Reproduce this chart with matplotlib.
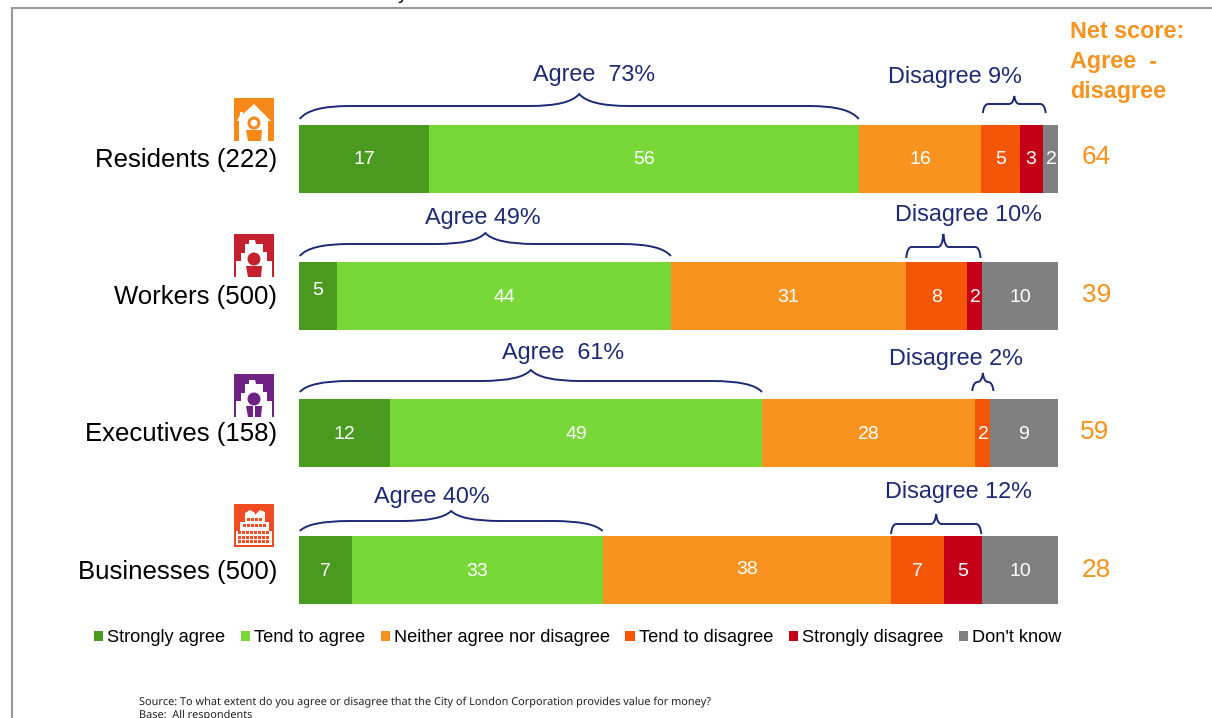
import numpy as np
import matplotlib
matplotlib.use('Agg')
import matplotlib.pyplot as plt
from matplotlib.patches import Rectangle, Polygon, Circle, PathPatch
from matplotlib.path import Path
from matplotlib.transforms import blended_transform_factory

plt.rcParams['text.hinting'] = 'no_autohint'

groups = ['Residents (222)', 'Workers (500)', 'Executives (158)', 'Businesses (500)']
responses = ['Strongly agree', 'Tend to agree', 'Neither agree nor disagree',
             'Tend to disagree', 'Strongly disagree', "Don't know"]
strongly_agree = [17, 5, 12, 7]
tend_agree = [56, 44, 49, 33]
neither = [16, 31, 28, 38]
tend_disagree = [5, 8, 2, 7]
strongly_disagree = [3, 2, 0, 5]
dont_know = [2, 10, 9, 10]
net_scores = [64, 39, 59, 28]
agree_labels = ['Agree  73%', 'Agree 49%', 'Agree  61%', 'Agree 40%']
disagree_labels = ['Disagree 9%', 'Disagree 10%', 'Disagree 2%', 'Disagree 12%']

colors = ['#4A9A1F', '#78D838', '#F7931E', '#F25606', '#C40018', '#808080']
navy = '#1C2A75'
orange = '#F7931E'
W, H = 1212, 718
font = 'Liberation Sans'

fig = plt.figure(figsize=(W / 100, H / 100), dpi=100)
ax = fig.add_axes([299 / W, 1 - 639 / H, 759 / W, 549 / H])
over = fig.add_axes([0, 0, 1, 1], zorder=3)
over.set_xlim(0, W)
over.set_ylim(H, 0)
over.axis('off')
over.patch.set_alpha(0)

series = np.array([strongly_agree, tend_agree, neither, tend_disagree,
                   strongly_disagree, dont_know], dtype=float)
shares = series / series.sum(axis=0) * 100
lefts = np.vstack([np.zeros(4), np.cumsum(shares, axis=0)[:-1]])
rows = np.arange(4)

handles = []
for i, name in enumerate(responses):
    bars = ax.barh(rows, shares[i], left=lefts[i], height=68 / 137.33,
                   color=colors[i], label=name)
    handles.append(bars)

ax.set_xlim(0, 100)
ax.set_ylim(3.5, -0.5)
ax.axis('off')

row_y = [158.5, 296, 433, 570.5]

# a few labels sit off centre in the original
label_shift = {(1, 0): -7, (3, 2): -3}
for r in rows:
    for i in range(6):
        if series[i, r] == 0:
            continue
        xc = lefts[i, r] + shares[i, r] / 2
        ypix = row_y[r] + label_shift.get((r, i), 0) + 1
        over.text(299 + xc * 7.59, ypix, '%d' % series[i, r], color='white',
                  fontsize=14, family=font, ha='center', va='center')

for r, name in enumerate(groups):
    over.text(277, row_y[r] + 1, name, fontsize=18.5, family=font, color='black',
              ha='right', va='center')

net_x = [1096, 1097, 1095, 1096]
net_y = [157, 295, 432, 570]
for r, val in enumerate(net_scores):
    over.text(net_x[r], net_y[r], str(val), fontsize=19, family=font,
              color=orange, ha='center', va='center')

for y, line in zip([32, 62, 92], ['Net score:', 'Agree  -', 'disagree']):
    over.text(1070, y, line, fontsize=16.8, family=font, weight='bold', color=orange,
              ha='left', va='center')

# braces: x in data units, y in figure pixels
brace_tf = blended_transform_factory(ax.transData, over.transData)


def brace(x0, x1, y_end, y_line, y_tip, r):
    xm = (x0 + x1) / 2
    k = 0.2 * r
    verts = [(x0, y_end), (x0 + k, y_line), (x0 + r, y_line),
             (xm - r, y_line), (xm - k, y_line), (xm, y_tip),
             (xm + k, y_line), (xm + r, y_line),
             (x1 - r, y_line), (x1 - k, y_line), (x1, y_end)]
    codes = [Path.MOVETO, Path.CURVE3, Path.CURVE3,
             Path.LINETO, Path.CURVE3, Path.CURVE3,
             Path.CURVE3, Path.CURVE3,
             Path.LINETO, Path.CURVE3, Path.CURVE3]
    ax.add_patch(PathPatch(Path(verts, codes), fc='none', ec=navy, lw=1.4,
                           transform=brace_tf, clip_on=False, zorder=4))


agree_y = [(119, 106, 94), (256, 244, 233), (392, 381, 370), (531, 521, 511)]
disagree_y = [(113, 104, 96), (258, 247, 234), (391, 382, 373), (534, 524, 514)]
start_pad = [-0.2, 0, 0.3, 0]
end_pad = [0.4, -0.2, 0.5, -0.1]
agree_end = shares[0] + shares[1]
disagree_start = agree_end + shares[2]
disagree_end = disagree_start + shares[3] + shares[4]
for r in rows:
    brace(0.1, agree_end[r], *agree_y[r], 6.5)
    brace(disagree_start[r] - start_pad[r], disagree_end[r] + end_pad[r],
          *disagree_y[r], 0.7)

agree_text = [(594, 75), (483, 218), (563, 353), (432, 497)]
disagree_text = [(955, 77), (968, 215), (956, 359), (958, 492)]
for r in rows:
    over.text(*agree_text[r], agree_labels[r], fontsize=16.8, family=font, color=navy,
              ha='center', va='center')
    over.text(*disagree_text[r], disagree_labels[r], fontsize=16.8, family=font, color=navy,
              ha='center', va='center')


def place(pts, x, y):
    return [(x + px, y + py) for px, py in pts]


def person(x, y, color, split=False, ring=False):
    over.add_patch(Circle((x + 20, y + 25), 6.5, fc=color, ec='none'))
    if ring:
        over.add_patch(Circle((x + 20, y + 25), 3.5, fc='white', ec='none'))
    over.add_patch(Polygon(place([(12, 32), (28, 32), (27, 43), (14, 43)], x, y), fc=color, ec='none'))
    if split:
        over.add_patch(Rectangle((x + 19.3, y + 32), 1.4, 11, fc='white', ec='none'))


def house_icon(x, y, color):
    over.add_patch(Rectangle((x, y), 40, 43, fc=color, ec='none'))
    outline = [(20, 6), (37, 23), (34, 23), (34, 43), (5, 43), (5, 23), (3, 23), (6, 17), (6, 14), (9, 14), (9, 16)]
    over.add_patch(Polygon(place(outline, x, y), fc='white', ec='none'))
    person(x, y, color, ring=True)


def gable_icon(x, y, color, split=False):
    over.add_patch(Rectangle((x, y), 40, 43, fc=color, ec='none'))
    outline = [(2, 43), (2, 27), (7, 27), (7, 19), (11, 19), (11, 10), (15, 10), (15, 6), (21, 6),
               (22, 10), (29, 10), (29, 18), (33, 18), (33, 27), (38, 27), (38, 43)]
    over.add_patch(Polygon(place(outline, x, y), fc='white', ec='none'))
    person(x, y, color, split)


def block_icon(x, y, color):
    over.add_patch(Rectangle((x, y), 40, 43, fc=color, ec='none'))
    outline = [(2, 41), (2, 27), (6, 27), (6, 18), (11, 18), (11, 9), (16, 6), (21, 9), (21, 11), (26, 6),
               (31, 8), (31, 18), (35, 18), (35, 27), (38, 27), (38, 41)]
    over.add_patch(Polygon(place(outline, x, y), fc='white', ec='none'))
    for wy, wx0, wx1 in [(14, 13, 29), (20, 9, 33), (27, 4, 36), (31.5, 4, 36), (36, 4, 36)]:
        for wx in np.arange(wx0, wx1, 4):
            over.add_patch(Rectangle((x + wx, y + wy), 3, 3.4, fc=color, ec='none'))


house_icon(234, 98, '#F7891B')
gable_icon(234, 234, '#C4202E')
gable_icon(234, 374, '#6F2283', split=True)
block_icon(234, 504, '#F04B23')

# slide frame and the cut off title
over.plot([11.5, 11.5, W], [H, 8, 8], color='#999999', lw=1.5, solid_joinstyle='miter')
over.text(403, -1, 'y', fontsize=14, family=font, color='black', ha='center', va='baseline')

leg = over.legend(handles, responses, loc='center left', bbox_to_anchor=(94 / W, 1 - 638 / H),
                  ncol=6, frameon=False, handlelength=0.5, handleheight=0.5,
                  handletextpad=0.22, columnspacing=0.86, borderaxespad=0, borderpad=0,
                  prop={'family': font, 'size': 13.1})

over.text(139, 702, 'Source: To what extent do you agree or disagree that the City of London Corporation provides value for money?',
          fontsize=7.85, family='Noto Sans', color='#222222', ha='left', va='center')
over.text(139, 714.5, 'Base:  All respondents', fontsize=7.85, family='Noto Sans', color='#222222',
          ha='left', va='center')

fig.savefig('out.png', dpi=100)
